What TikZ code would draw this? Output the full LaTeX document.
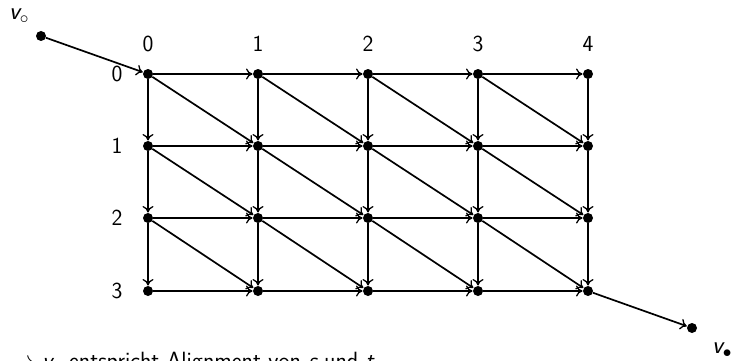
\documentclass[tikz,border=0pt]{standalone}
\usetikzlibrary{arrows.meta}
\begin{document}
\begin{tikzpicture}[x=1pt,y=-1pt,
  dot/.style={circle,fill=black,inner sep=0pt,minimum size=10pt},
  edge/.style={-{To[length=6.5pt,width=11pt,line width=1.3pt]},line width=1.7pt,shorten >=0.3pt},
  lab/.style={font=\fontsize{23}{27}\sffamily,inner sep=0pt}]
\useasboundingbox (0,0) rectangle (733,361);
% grid nodes
\foreach \i/\y in {0/74,1/146,2/218,3/291}{
  \foreach \j/\x in {0/148,1/258,2/368,3/478,4/588}{
    \node[dot] (n\i\j) at (\x,\y) {};
  }
}
\node[dot] (vs) at (41,36) {};
\node[dot] (ve) at (692,328) {};
% labels
\foreach \j/\x in {0/148,1/258,2/368,3/478,4/588}{
  \node[lab] (c\j) at (\x,44) {\j};
}
\foreach \i/\y in {0/74,1/146,2/218,3/291}{
  \node[lab] (r\i) at (117,\y) {\i};
}
\node[lab,font=\fontsize{25}{29}\sffamily] (lvs) at (19,16) {{\itshape v}$_\circ$};
\node[lab,font=\fontsize{25}{29}\sffamily] (lve) at (722,350) {{\itshape v}$_\bullet$};
% edges
\foreach \i in {0,1,2,3}{
  \foreach \j [evaluate=\j as \k using int(\j+1)] in {0,1,2,3}{
    \draw[edge] (n\i\j) -- (n\i\k);
  }
}
\foreach \i [evaluate=\i as \k using int(\i+1)] in {0,1,2}{
  \foreach \j in {0,1,2,3,4}{
    \draw[edge] (n\i\j) -- (n\k\j);
  }
  \foreach \j [evaluate=\j as \m using int(\j+1)] in {0,1,2,3}{
    \draw[edge] (n\i\j) -- (n\k\m);
  }
}
\draw[edge] (vs) -- (n00);
\draw[edge] (n34) -- (ve);
% bottom text (cut off)
\node[lab,font=\fontsize{23.5}{28}\sffamily,anchor=base west] (txt) at (10,368.5) {$\rightarrow$ {\itshape v}$_\bullet$ entspricht Alignment von {\itshape s} und {\itshape t}};
\end{tikzpicture}
\end{document}
